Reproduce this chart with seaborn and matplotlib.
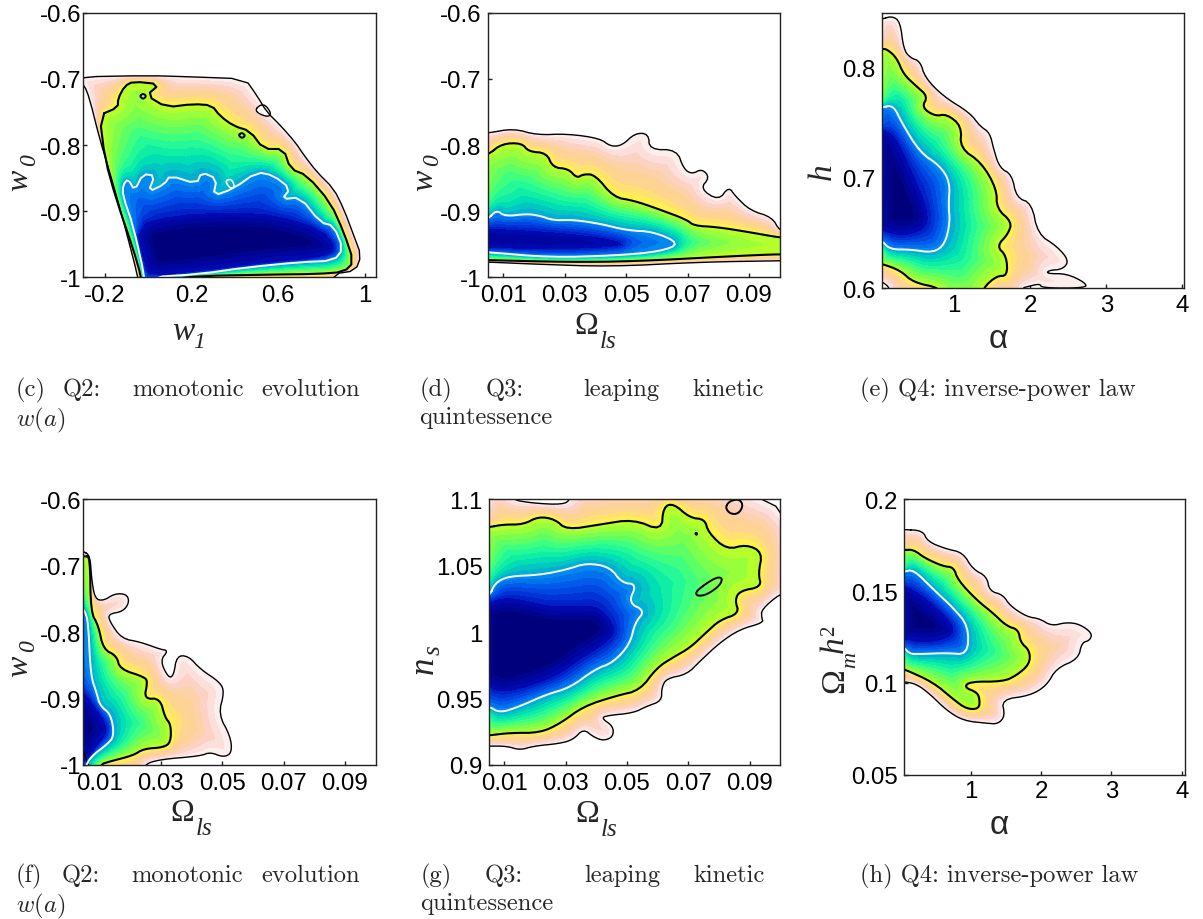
import numpy as np
import matplotlib
matplotlib.use("Agg")
import matplotlib.pyplot as plt
from matplotlib.path import Path
import seaborn as sns

# ---------------------------
# Contours (x, y in data units)
# outer edge, black contour, white contour, dark core
# ---------------------------
c_outer = [(-0.32,-0.697),(0.0,-0.695),(0.2,-0.697),(0.447,-0.70),(0.501,-0.725),(0.547,-0.75),(0.609,-0.77),(0.679,-0.796),(0.72,-0.816),(0.779,-0.841),(0.856,-0.866),(0.903,-0.897),(0.949,-0.937),(0.983,-0.967),(0.957,-0.99),(0.856,-0.995),(0.84,-1.02),(-0.04,-1.02),(-0.047,-1.0),(-0.117,-0.912),(-0.178,-0.841),(-0.225,-0.79),(-0.271,-0.73),(-0.295,-0.71),(-0.32,-0.705)]
c_black = [(-0.225,-0.755),(-0.14,-0.743),(-0.14,-0.73),(-0.109,-0.711),(-0.07,-0.704),(0.053,-0.708),(-0.008,-0.725),(0.084,-0.743),(0.208,-0.738),(0.293,-0.74),(0.331,-0.756),(0.393,-0.771),(0.47,-0.779),(0.532,-0.806),(0.625,-0.806),(0.656,-0.836),(0.733,-0.846),(0.841,-0.887),(0.903,-0.932),(0.949,-0.977),(0.903,-0.992),(0.779,-0.995),(0.547,-0.996),(0.239,-0.998),(0.1,-1.003),(0.1,-1.02),(-0.03,-1.02),(-0.032,-1.0),(-0.07,-0.957),(-0.148,-0.882),(-0.20,-0.821)]
c_white = [(-0.117,-0.861),(-0.094,-0.851),(-0.063,-0.869),(-0.025,-0.844),(0.03,-0.846),(0.0,-0.871),(0.076,-0.859),(0.10,-0.846),(0.223,-0.859),(0.246,-0.841),(0.316,-0.851),(0.30,-0.877),(0.393,-0.866),(0.501,-0.841),(0.578,-0.846),(0.656,-0.866),(0.617,-0.882),(0.702,-0.879),(0.794,-0.917),(0.856,-0.922),(0.90,-0.957),(0.856,-0.975),(0.702,-0.977),(0.455,-0.985),(0.239,-0.995),(0.007,-1.0),(0.0,-1.02),(-0.02,-1.02),(-0.016,-1.0),(-0.07,-0.922),(-0.117,-0.877)]
c_core = [(-0.055,-0.922),(0.115,-0.907),(0.393,-0.902),(0.594,-0.907),(0.794,-0.927),(0.872,-0.957),(0.794,-0.97),(0.547,-0.977),(0.239,-0.99),(0.007,-0.998),(-0.016,-0.982)]
c_black_loops = [[(-0.04,-0.726),(-0.024,-0.722),(-0.008,-0.726),(-0.024,-0.731)],[(0.416,-0.785),(0.432,-0.781),(0.449,-0.786),(0.432,-0.79)]]
c_white_loops = [[(0.354,-0.854),(0.385,-0.851),(0.40,-0.864),(0.378,-0.866)]]
c_holes = [[(0.486,-0.748),(0.532,-0.736),(0.571,-0.753),(0.547,-0.758)]]

d_outer = [(0.005,-0.782),(0.0133,-0.775),(0.0209,-0.785),(0.0307,-0.783),(0.0415,-0.79),(0.0448,-0.802),(0.0486,-0.801),(0.0529,-0.782),(0.0573,-0.783),(0.0576,-0.807),(0.0665,-0.807),(0.0687,-0.836),(0.0714,-0.844),(0.0747,-0.836),(0.0772,-0.849),(0.0741,-0.866),(0.0801,-0.884),(0.0834,-0.863),(0.0855,-0.877),(0.0904,-0.899),(0.0975,-0.909),(0.1,-0.93),(0.103,-0.93),(0.103,-0.975),(0.1,-0.975),(0.0741,-0.977),(0.0448,-0.984),(0.0198,-0.98),(0.005,-0.977),(0.002,-0.977),(0.002,-0.782)]
d_black = [(0.005,-0.815),(0.0095,-0.798),(0.016,-0.797),(0.0182,-0.81),(0.0241,-0.812),(0.0261,-0.834),(0.0312,-0.836),(0.0339,-0.85),(0.0361,-0.844),(0.0399,-0.845),(0.0459,-0.879),(0.0524,-0.884),(0.06,-0.896),(0.0698,-0.913),(0.072,-0.922),(0.0796,-0.924),(0.0904,-0.932),(0.1,-0.94),(0.103,-0.94),(0.103,-0.966),(0.1,-0.965),(0.085,-0.968),(0.0524,-0.976),(0.0307,-0.977),(0.005,-0.974),(0.002,-0.974),(0.002,-0.815)]
d_white = [(0.005,-0.912),(0.0078,-0.898),(0.0105,-0.908),(0.0176,-0.904),(0.022,-0.907),(0.0263,-0.914),(0.0328,-0.913),(0.0415,-0.919),(0.0502,-0.929),(0.0589,-0.931),(0.0676,-0.949),(0.0611,-0.961),(0.047,-0.967),(0.0252,-0.97),(0.005,-0.962),(0.002,-0.962),(0.002,-0.912)]
d_core = [(0.005,-0.927),(0.0252,-0.932),(0.0415,-0.94),(0.0502,-0.95),(0.0415,-0.955),(0.0252,-0.957),(0.005,-0.955),(0.002,-0.955),(0.002,-0.927)]

e_outer = [(0.05,0.844),(0.183,0.847),(0.293,0.842),(0.337,0.817),(0.424,0.809),(0.555,0.806),(0.62,0.791),(0.86,0.774),(1.21,0.759),(1.34,0.747),(1.47,0.741),(1.52,0.726),(1.6,0.709),(1.76,0.703),(1.82,0.682),(2.02,0.677),(2.1,0.649),(2.35,0.638),(2.51,0.625),(2.43,0.617),(2.24,0.616),(2.22,0.613),(2.48,0.613),(2.72,0.605),(2.74,0.6),(2.15,0.6),(2.13,0.604),(1.95,0.601),(1.9,0.6),(1.9,0.59),(0.16,0.59),(0.16,0.6),(0.05,0.606),(0.0,0.606),(0.0,0.844)]
e_black = [(0.05,0.817),(0.117,0.817),(0.248,0.809),(0.337,0.794),(0.51,0.783),(0.655,0.774),(0.576,0.764),(0.75,0.756),(0.904,0.758),(1.1,0.747),(1.08,0.727),(1.36,0.714),(1.56,0.69),(1.56,0.672),(1.76,0.66),(1.71,0.649),(1.56,0.638),(1.69,0.629),(1.7,0.611),(1.56,0.611),(1.38,0.6),(1.38,0.59),(0.85,0.59),(0.82,0.6),(0.466,0.605),(0.293,0.616),(0.05,0.622),(0.0,0.622),(0.0,0.817)]
e_white = [(0.05,0.764),(0.204,0.766),(0.314,0.75),(0.554,0.723),(0.816,0.711),(0.948,0.696),(0.926,0.675),(0.948,0.66),(0.882,0.64),(0.73,0.632),(0.423,0.635),(0.16,0.635),(0.05,0.643),(0.0,0.643),(0.0,0.764)]
e_core = [(0.05,0.744),(0.226,0.738),(0.467,0.702),(0.663,0.669),(0.62,0.653),(0.29,0.647),(0.05,0.653),(0.0,0.653),(0.0,0.744)]

f_outer = [(0.0048,-0.678),(0.007,-0.685),(0.0075,-0.72),(0.0086,-0.75),(0.0113,-0.753),(0.0151,-0.742),(0.0189,-0.743),(0.0198,-0.755),(0.0178,-0.769),(0.0129,-0.773),(0.0135,-0.785),(0.0173,-0.81),(0.0233,-0.815),(0.0298,-0.826),(0.0325,-0.828),(0.0298,-0.843),(0.0325,-0.869),(0.0342,-0.866),(0.0352,-0.836),(0.039,-0.836),(0.0429,-0.856),(0.0494,-0.876),(0.0507,-0.891),(0.0488,-0.924),(0.0527,-0.957),(0.0532,-0.982),(0.0505,-0.989),(0.0461,-0.981),(0.0429,-0.987),(0.0298,-0.992),(0.0244,-1.0),(0.0244,-1.02),(0.002,-1.02),(0.002,-0.678)]
f_black = [(0.0053,-0.686),(0.007,-0.686),(0.0072,-0.77),(0.0097,-0.79),(0.0113,-0.826),(0.0157,-0.836),(0.0167,-0.856),(0.0249,-0.868),(0.0257,-0.876),(0.0246,-0.901),(0.0298,-0.90),(0.0314,-0.929),(0.0333,-0.939),(0.0333,-0.966),(0.0309,-0.974),(0.0244,-0.976),(0.0211,-0.986),(0.0135,-0.995),(0.0102,-1.0),(0.0102,-1.02),(0.002,-1.02),(0.002,-0.686)]
f_white = [(0.0053,-0.768),(0.0064,-0.785),(0.0072,-0.866),(0.0091,-0.891),(0.0102,-0.911),(0.0138,-0.924),(0.0149,-0.957),(0.0124,-0.97),(0.008,-0.985),(0.0056,-1.0),(0.0056,-1.02),(0.002,-1.02),(0.002,-0.75)]
f_core = [(0.0048,-0.891),(0.008,-0.911),(0.0118,-0.936),(0.0124,-0.951),(0.0091,-0.971),(0.0053,-0.996),(0.002,-0.996),(0.002,-0.891)]

g_outer = [(0.002,1.11),(0.0118,1.11),(0.0118,1.1),(0.0195,1.097),(0.0292,1.096),(0.0316,1.1),(0.0316,1.11),(0.103,1.11),(0.103,1.029),(0.1,1.029),(0.0939,1.017),(0.0939,1.011),(0.0945,1.007),(0.0868,1.002),(0.0803,0.992),(0.0738,0.978),(0.0695,0.968),(0.0629,0.965),(0.0613,0.958),(0.0613,0.948),(0.0564,0.944),(0.0521,0.939),(0.0434,0.937),(0.0417,0.935),(0.0455,0.929),(0.0455,0.921),(0.0423,0.918),(0.039,0.921),(0.0358,0.927),(0.0325,0.919),(0.0282,0.916),(0.0195,0.914),(0.0151,0.911),(0.0108,0.914),(0.0049,0.914),(0.002,0.914)]
g_black = [(0.0051,1.079),(0.0097,1.081),(0.0162,1.081),(0.0211,1.087),(0.0265,1.085),(0.0303,1.077),(0.0412,1.081),(0.0521,1.085),(0.0613,1.076),(0.0618,1.094),(0.0651,1.097),(0.0705,1.086),(0.0754,1.085),(0.0765,1.075),(0.0825,1.062),(0.089,1.066),(0.0942,1.06),(0.0928,1.044),(0.0939,1.034),(0.0868,1.031),(0.0852,1.024),(0.0866,1.014),(0.0803,1.009),(0.076,1.0),(0.0705,0.988),(0.0651,0.981),(0.0597,0.973),(0.0542,0.956),(0.0466,0.952),(0.0358,0.944),(0.0282,0.931),(0.0216,0.924),(0.0118,0.924),(0.0049,0.922),(0.002,0.922),(0.002,1.079)]
g_white = [(0.0051,1.027),(0.007,1.037),(0.0113,1.042),(0.0216,1.043),(0.0303,1.047),(0.0368,1.052),(0.0445,1.049),(0.0483,1.037),(0.0532,1.036),(0.0504,1.022),(0.0559,1.016),(0.0526,1.007),(0.051,0.991),(0.0455,0.977),(0.0396,0.972),(0.0314,0.958),(0.0238,0.953),(0.0151,0.944),(0.0086,0.939),(0.0049,0.944),(0.002,0.944),(0.002,1.027)]
g_core = [(0.0049,1.022),(0.0108,1.026),(0.0195,1.022),(0.0249,1.019),(0.0336,1.019),(0.0412,1.019),(0.0466,1.002),(0.0434,0.992),(0.0347,0.98),(0.0271,0.967),(0.0151,0.957),(0.0075,0.955),(0.0049,0.96),(0.002,0.96),(0.002,1.022)]
g_black_loops = [[(0.082,1.094),(0.0836,1.099),(0.0868,1.1),(0.0879,1.095),(0.0863,1.089),(0.0836,1.089)],[(0.0725,1.031),(0.0787,1.041),(0.0812,1.041),(0.0803,1.035),(0.076,1.028),(0.0727,1.027)],[(0.0722,1.074),(0.0728,1.075),(0.0728,1.073)]]

h_outer = [(0.05,0.1835),(0.32,0.183),(0.39,0.177),(0.65,0.173),(0.89,0.171),(1.03,0.162),(1.23,0.158),(1.27,0.15),(1.46,0.148),(1.56,0.142),(1.8,0.136),(1.98,0.135),(2.15,0.131),(2.36,0.133),(2.55,0.132),(2.73,0.127),(2.69,0.123),(2.58,0.122),(2.53,0.113),(2.22,0.108),(2.08,0.0985),(1.84,0.093),(1.44,0.091),(1.49,0.082),(1.39,0.0776),(1.23,0.078),(0.9,0.0794),(0.66,0.085),(0.42,0.094),(0.23,0.0994),(0.05,0.1007),(0.0,0.1007),(0.0,0.1835)]
h_black = [(0.05,0.1724),(0.19,0.1726),(0.35,0.168),(0.61,0.1635),(0.76,0.163),(0.82,0.156),(1.09,0.145),(1.32,0.138),(1.51,0.131),(1.68,0.129),(1.71,0.122),(1.84,0.1176),(1.84,0.1103),(1.65,0.104),(1.46,0.1007),(0.99,0.1007),(0.91,0.0976),(1.09,0.0949),(1.13,0.0912),(1.12,0.0858),(0.94,0.0858),(0.75,0.0912),(0.47,0.1003),(0.05,0.1076),(0.0,0.1076),(0.0,0.1724)]
h_white = [(0.05,0.1606),(0.19,0.1617),(0.47,0.151),(0.75,0.141),(0.97,0.131),(0.96,0.1154),(0.66,0.1163),(0.28,0.1157),(0.14,0.1157),(0.05,0.1194),(0.0,0.1194),(0.0,0.1606)]
h_core = [(0.05,0.153),(0.28,0.1484),(0.61,0.1375),(0.78,0.129),(0.66,0.124),(0.33,0.122),(0.05,0.124),(0.0,0.124),(0.0,0.153)]

w0_ticks = [-1, -0.9, -0.8, -0.7, -0.6]
w0_labels = ["-1", "-0.9", "-0.8", "-0.7", "-0.6"]
w1_ticks = [-0.2, 0.2, 0.6, 1]
w1_labels = ["-0.2", "0.2", "0.6", "1"]
ols_ticks = [0.01, 0.03, 0.05, 0.07, 0.09]
ols_labels = ["0.01", "0.03", "0.05", "0.07", "0.09"]
alpha_ticks = [1, 2, 3, 4]
alpha_labels = ["1", "2", "3", "4"]
h_ticks = [0.6, 0.7, 0.8]
h_labels = ["0.6", "0.7", "0.8"]
ns_ticks = [0.9, 0.95, 1, 1.05, 1.1]
ns_labels = ["0.9", "0.95", "1", "1.05", "1.1"]
omh_ticks = [0.05, 0.1, 0.15, 0.2]
omh_labels = ["0.05", "0.1", "0.15", "0.2"]

# ---------------------------
# Style
# ---------------------------
W, H = 1203, 920
sns.set_theme(style="white")
plt.rcParams["font.family"] = ["Liberation Sans", "DejaVu Sans"]
plt.rcParams["mathtext.fontset"] = "stix"

# colour bands: outer to black, black to white, white to core, core
bands = [
    (1, 2, sns.blend_palette(["#fdeeee", "#fcd2cc", "#fdd09c", "#fdd68c", "#fff050"], 8)),
    (2, 3, sns.blend_palette(["#b4ff2c", "#74ff50", "#30ff90", "#00e4b0", "#00b0d0"], 10)),
    (3, 4, sns.blend_palette(["#0088f0", "#0050e8", "#0020c8"], 6)),
    (4, 5, sns.blend_palette(["#0008b0", "#00007c"], 4)),
]
levels = [1.0]
colors = []
for lo, hi, pal in bands:
    levels += list(np.linspace(lo, hi, len(pal) + 1)[1:])
    colors += list(pal)


def soften(poly, rounds=2):
    """Round the corners of a read outline, the contours in the picture are curved."""
    p = np.array(poly, dtype=float)
    for _ in range(rounds):
        q = np.roll(p, -1, axis=0)
        p = np.column_stack([0.75 * p + 0.25 * q, 0.25 * p + 0.75 * q]).reshape(-1, 2)
    return p


def seg_distance(px, py, poly):
    """Distance of every grid point to the closed outline poly."""
    best = np.full(px.shape, np.inf)
    p = np.vstack([poly, poly[:1]])
    for (ax_, ay_), (bx_, by_) in zip(p[:-1], p[1:]):
        dx, dy = bx_ - ax_, by_ - ay_
        t = ((px - ax_) * dx + (py - ay_) * dy) / max(dx * dx + dy * dy, 1e-9)
        t = np.clip(t, 0, 1)
        best = np.minimum(best, np.hypot(px - ax_ - t * dx, py - ay_ - t * dy))
    return best


def shade_field(outlines, xlim, ylim, box):
    """Level field that passes through the read contours, for the colour bands only."""
    w, h = box[0], box[1]
    xs = np.linspace(xlim[0], xlim[1], int(w))
    ys = np.linspace(ylim[0], ylim[1], int(h))
    X, Y = np.meshgrid(xs, ys)
    px = (X - xlim[0]) / (xlim[1] - xlim[0]) * w
    py = (Y - ylim[0]) / (ylim[1] - ylim[0]) * h
    pts = np.column_stack([px.ravel(), py.ravel()])
    inside, dist = [], []
    for o in outlines:
        poly = np.column_stack([(o[:, 0] - xlim[0]) / (xlim[1] - xlim[0]) * w,
                                (o[:, 1] - ylim[0]) / (ylim[1] - ylim[0]) * h])
        inside.append(Path(np.vstack([poly, poly[:1]])).contains_points(pts).reshape(px.shape))
        dist.append(seg_distance(px, py, poly))
    Z = np.zeros(px.shape)
    for k in range(len(outlines)):
        if k + 1 < len(outlines):
            v = k + 1 + dist[k] / (dist[k] + dist[k + 1] + 1e-9)
        else:
            v = k + 1 + np.minimum(dist[k] / 18.0, 0.999)
        Z = np.where(inside[k], v, Z)
    return X, Y, Z


def draw_line(ax, poly, color, lw):
    a = np.vstack([poly, poly[:1]])
    sns.lineplot(x=a[:, 0], y=a[:, 1], sort=False, estimator=None, color=color, linewidth=lw, ax=ax)


def panel(box, xlim, ylim, outlines, xticks, xlabels, yticks, ylabels,
          black_loops=(), white_loops=(), holes=(), xpad=5, ypad=4.5, rounds=2):
    left, right, top, bottom = box
    ax = fig.add_axes([left / W, 1 - bottom / H, (right - left) / W, (bottom - top) / H])
    soft = [soften(o, rounds) for o in outlines]
    X, Y, Z = shade_field(soft, xlim, ylim, (right - left, bottom - top))
    ax.contourf(X, Y, Z, levels=levels, colors=colors, antialiased=False)
    for hole in holes:
        p = soften(hole)
        ax.fill(p[:, 0], p[:, 1], color="white", lw=0)
        draw_line(ax, p, "black", 1.0)
    draw_line(ax, soft[0], "black", 1.0)
    draw_line(ax, soft[1], "black", 1.5)
    draw_line(ax, soft[2], "white", 1.4)
    for loop in black_loops:
        draw_line(ax, soften(loop), "black", 1.4)
    for loop in white_loops:
        draw_line(ax, soften(loop), "white", 1.2)
    ax.set_xlim(*xlim)
    ax.set_ylim(*ylim)
    ax.set_xticks(xticks, xlabels)
    ax.set_yticks(yticks, ylabels)
    ax.tick_params(direction="in", length=3, width=1, color="#222222", labelcolor="black",
                   labelsize=17.3, bottom=True, left=True)
    ax.tick_params(axis="x", pad=xpad)
    ax.tick_params(axis="y", pad=ypad)
    ax.set_xlabel("")
    ax.set_ylabel("")
    for s in ax.spines.values():
        s.set_visible(True)
        s.set_color("#222222")
        s.set_linewidth(1.0)
    return ax


def put(x, y, s, size, rotation=0, style="normal", family="Liberation Serif"):
    fig.text(x / W, 1 - y / H, s, fontsize=size, rotation=rotation, style=style, family=family,
             ha="center", va="center", math_fontfamily="stix")


def caption(x, y, s):
    fig.text(x / W, 1 - y / H, s, fontsize=17.7, ha="left", va="baseline",
             family="cmr10", math_fontfamily="cm")


fig = plt.figure(figsize=(W / 100, H / 100), dpi=100)

panel((83.3, 375.7, 13.7, 278.3), (-0.3, 1.05), (-1, -0.6), [c_outer, c_black, c_white, c_core],
      w1_ticks, w1_labels, w0_ticks, w0_labels, c_black_loops, c_white_loops, c_holes, ypad=1.5, rounds=1)
panel((487.7, 779.7, 13.7, 278.3), (0.0049, 0.1), (-1, -0.6), [d_outer, d_black, d_white, d_core],
      ols_ticks, ols_labels, w0_ticks, w0_labels)
panel((881.7, 1184, 13.7, 289), (0.05, 4.02), (0.6, 0.85), [e_outer, e_black, e_white, e_core],
      alpha_ticks, alpha_labels, h_ticks, h_labels, xpad=4)
panel((83.3, 375.7, 500.3, 765.7), (0.0048, 0.1), (-1, -0.6), [f_outer, f_black, f_white, f_core],
      ols_ticks, ols_labels, w0_ticks, w0_labels, ypad=1.5)
panel((488.7, 780.3, 500.3, 765.7), (0.0049, 0.1), (0.9, 1.1), [g_outer, g_black, g_white, g_core],
      ols_ticks, ols_labels, ns_ticks, ns_labels, g_black_loops)
panel((903.7, 1185.3, 500.3, 775.7), (0.05, 4.05), (0.05, 0.2), [h_outer, h_black, h_white, h_core],
      alpha_ticks, alpha_labels, omh_ticks, omh_labels, xpad=4)

# axis titles, main letter and subscript placed apart
for x, y, sx, sy in [(20, 180, 30, 160), (425, 180, 433, 160), (20, 666, 29, 646)]:
    put(x, y, "w", 23, rotation=90, style="italic")
    put(sx, sy, "0", 17, rotation=90, style="italic")
put(183, 332, "w", 24, style="italic")
put(199, 343, "1", 17, style="italic")
for x, y, sx, sy in [(586, 327, 608, 342), (182, 814, 204, 829), (587, 815, 609, 830)]:
    put(x, y, "Ω", 23)
    put(sx, sy, "ls", 18, style="italic")
put(823, 172, "h", 24, rotation=90, style="italic")
put(998, 340, "α", 24, family="Liberation Sans")
put(424, 665, "n", 25, rotation=90, style="italic")
put(434, 650, "s", 18, rotation=90, style="italic")
put(835, 681, "Ω", 24, rotation=90)
put(851, 660, "m", 16, rotation=90, style="italic")
put(835, 645, "h", 24, rotation=90, style="italic")
put(830, 631, "2", 15, rotation=90)
put(999, 826, "α", 24, family="Liberation Sans")

# captions
for x, s in [(16, "(c)"), (63, "Q2:"), (132, "monotonic"), (261, "evolution")]:
    caption(x, 396, s)
caption(16, 426, r"$w(a)$")
for x, s in [(420, "(d)"), (486, "Q3:"), (583, "leaping"), (692, "kinetic")]:
    caption(x, 396, s)
caption(419, 424, "quintessence")
caption(860, 396, "(e) Q4: inverse-power law")
for x, s in [(16, "(f)"), (62, "Q2:"), (131, "monotonic"), (261, "evolution")]:
    caption(x, 882, s)
caption(16, 912, r"$w(a)$")
for x, s in [(421, "(g)"), (485, "Q3:"), (584, "leaping"), (693, "kinetic")]:
    caption(x, 882, s)
caption(420, 910, "quintessence")
caption(860, 882, "(h) Q4: inverse-power law")

fig.savefig("out.png", dpi=100, facecolor="white")
